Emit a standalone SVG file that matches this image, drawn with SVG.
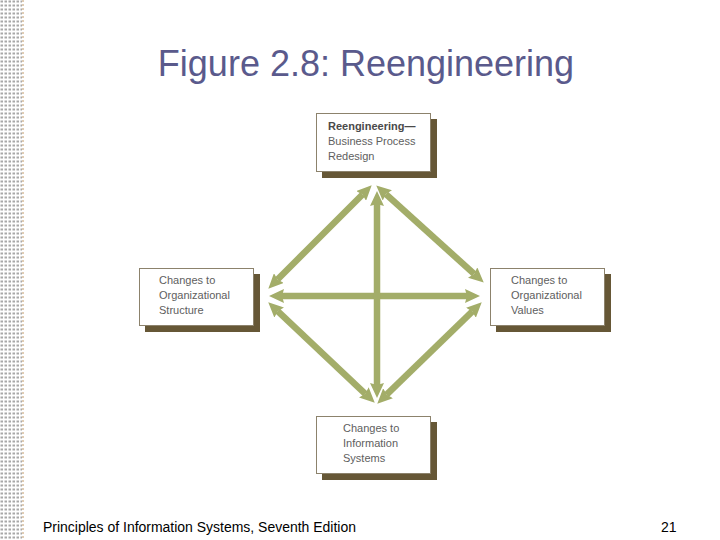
<svg xmlns="http://www.w3.org/2000/svg" width="720" height="540" viewBox="0 0 720 540">
<style>
.box{fill:#ffffff;stroke:#8c826c;stroke-width:1}
.shadow{fill:#665736}
.lbl{font-family:"Liberation Sans",Arial,sans-serif;font-size:11px;fill:#5e5e5e}
.b{font-weight:bold;fill:#4a4a4a}
.conn{stroke:#a3ad69;stroke-width:6.5;fill:none}
</style>
<defs>
<pattern id="dots" width="4" height="4" patternUnits="userSpaceOnUse">
<rect x="0.5" y="0.5" width="2.5" height="2" fill="#a8a8a8"/>
</pattern>
<marker id="ah" markerUnits="userSpaceOnUse" markerWidth="16" markerHeight="14" viewBox="0 0 16 14" refX="2" refY="7" orient="auto-start-reverse">
<path d="M0,0 L15,7 L0,14 L2,7 z" fill="#a3ad69"/>
</marker>
</defs>
<rect width="720" height="540" fill="#ffffff"/>
<rect x="0" y="0" width="22" height="540" fill="url(#dots)"/>
<line x1="23" y1="0" x2="23" y2="540" stroke="#c09a6a" stroke-width="1" stroke-dasharray="2,2"/>
<text x="366" y="76" text-anchor="middle" font-family="Liberation Sans,Arial,sans-serif" font-size="36" fill="#5a5a8c">Figure 2.8: Reengineering</text>
<g id="connectors">
<line class="conn" x1="362.5" y1="194.5" x2="277.5" y2="279.5" marker-start="url(#ah)" marker-end="url(#ah)"/>
<line class="conn" x1="385.9" y1="194.1" x2="474.1" y2="273.9" marker-start="url(#ah)" marker-end="url(#ah)"/>
<line class="conn" x1="282" y1="296" x2="467" y2="296" marker-start="url(#ah)" marker-end="url(#ah)"/>
<line class="conn" x1="377" y1="204" x2="377" y2="385" marker-start="url(#ah)" marker-end="url(#ah)"/>
<line class="conn" x1="277.7" y1="311.2" x2="365.3" y2="393.8" marker-start="url(#ah)" marker-end="url(#ah)"/>
<line class="conn" x1="472.4" y1="311.4" x2="386.6" y2="394.6" marker-start="url(#ah)" marker-end="url(#ah)"/>
</g>
<g id="top">
<rect class="shadow" x="322" y="119" width="115" height="59"/>
<rect class="box" x="316.5" y="113.5" width="114" height="58"/>
<text class="lbl b" x="328" y="130">Reengineering—</text>
<text class="lbl" x="328" y="145">Business Process</text>
<text class="lbl" x="328" y="160">Redesign</text>
</g>
<g id="left">
<rect class="shadow" x="145" y="274" width="115" height="58"/>
<rect class="box" x="139.5" y="268.5" width="114" height="57"/>
<text class="lbl" x="159" y="284">Changes to</text>
<text class="lbl" x="159" y="299">Organizational</text>
<text class="lbl" x="159" y="314">Structure</text>
</g>
<g id="right">
<rect class="shadow" x="496" y="274" width="115" height="58"/>
<rect class="box" x="490.5" y="268.5" width="114" height="57"/>
<text class="lbl" x="511" y="284">Changes to</text>
<text class="lbl" x="511" y="299">Organizational</text>
<text class="lbl" x="511" y="314">Values</text>
</g>
<g id="bottom">
<rect class="shadow" x="322" y="422" width="115" height="58"/>
<rect class="box" x="316.5" y="416.5" width="114" height="57"/>
<text class="lbl" x="343" y="432">Changes to</text>
<text class="lbl" x="343" y="447">Information</text>
<text class="lbl" x="343" y="462">Systems</text>
</g>
<text x="43" y="532" font-family="Liberation Sans,Arial,sans-serif" font-size="14" fill="#000000" textLength="313" lengthAdjust="spacingAndGlyphs">Principles of Information Systems, Seventh Edition</text>
<text x="661" y="532" font-family="Liberation Sans,Arial,sans-serif" font-size="14" fill="#000000">21</text>
</svg>
